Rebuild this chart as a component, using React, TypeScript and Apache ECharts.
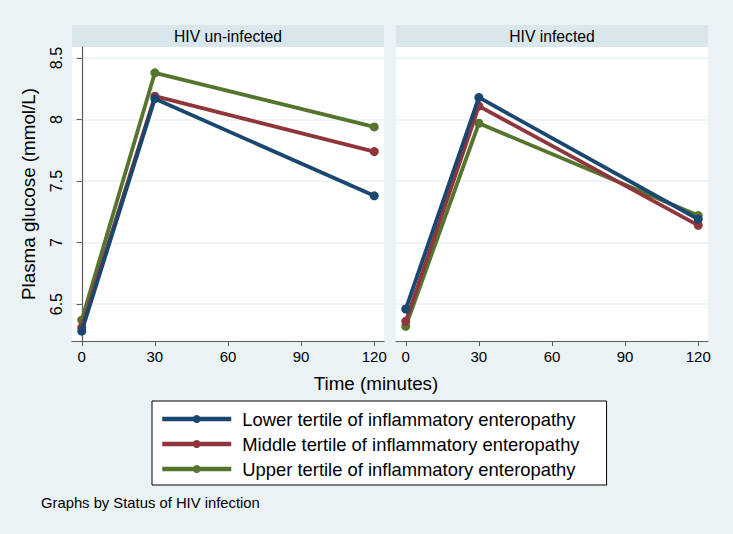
import React, { useEffect, useRef } from "react";
import * as echarts from "echarts";

const times = [0, 30, 120];
const xTicks = [0, 30, 60, 90, 120];
const yTicks = [6.5, 7, 7.5, 8, 8.5];
const panels = ["HIV un-infected", "HIV infected"];
const seriesNames = [
  "Lower tertile of inflammatory enteropathy",
  "Middle tertile of inflammatory enteropathy",
  "Upper tertile of inflammatory enteropathy",
];
const colors = ["#1a476f", "#90353b", "#55752f"];
// HIV un-infected
const uninfLower = [6.28, 8.17, 7.38];
const uninfMiddle = [6.31, 8.19, 7.74];
const uninfUpper = [6.37, 8.38, 7.94];
// HIV infected
const infLower = [6.46, 8.18, 7.19];
const infMiddle = [6.36, 8.11, 7.14];
const infUpper = [6.32, 7.97, 7.22];

const FONT = "'Liberation Sans', Arial, sans-serif";
const BG = "#EAF2F3";
const HEAD = "#D9E6EB";

export default function App() {
  const ref = useRef<HTMLDivElement>(null);
  useEffect(() => {
    if (!ref.current) return;
    const chart = echarts.init(ref.current, undefined, { renderer: "svg" });
    const groups = [
      [uninfLower, uninfMiddle, uninfUpper],
      [infLower, infMiddle, infUpper],
    ];
    const gridLeft = [72, 396];
    const gridW = 312;
    const series: any[] = [];
    groups.forEach((g, gi) => {
      g.forEach((vals, si) => {
        series.push({
          type: "line",
          name: seriesNames[si],
          xAxisIndex: gi,
          yAxisIndex: gi,
          data: vals.map((v, i) => [times[i], v]),
          symbol: "circle",
          symbolSize: 9,
          lineStyle: { width: 3.8, color: colors[si] },
          itemStyle: { color: colors[si] },
          z: 3 + (2 - si),
        });
      });
    });
    const xAxes = [0, 1].map((gi) => ({
      type: "value",
      gridIndex: gi,
      min: -4,
      max: 124,
      axisLine: { show: true, lineStyle: { color: "#5a5a5a", width: 1.2 } },
      axisTick: { show: true, length: 5, customValues: xTicks, lineStyle: { color: "#5a5a5a" } },
      axisLabel: { customValues: xTicks, fontFamily: FONT, fontSize: 15, color: "#000", margin: 8 },
      splitLine: { show: false },
    }));
    const yAxes = [0, 1].map((gi) => ({
      type: "value",
      gridIndex: gi,
      min: 6.2,
      max: 8.59,
      axisLine: { show: gi === 0, lineStyle: { color: "#5a5a5a", width: 1.2 } },
      axisTick: { show: gi === 0, length: 5, customValues: yTicks, lineStyle: { color: "#5a5a5a" } },
      axisLabel: {
        show: gi === 0,
        customValues: yTicks,
        rotate: 90,
        fontFamily: FONT,
        fontSize: 16,
        color: "#000",
        margin: 8,
      },
      splitLine: { show: true, lineStyle: { color: BG, width: 1.5 } },
    }));
    const graphic: any[] = [];
    panels.forEach((p, gi) => {
      graphic.push({
        type: "rect",
        shape: { x: gridLeft[gi], y: 25, width: gridW, height: 22 },
        style: { fill: HEAD },
        silent: true,
      });
      graphic.push({
        type: "text",
        x: gridLeft[gi] + gridW / 2,
        y: 36,
        style: {
          text: p,
          fontFamily: FONT,
          fontSize: 15.7,
          fill: "#000",
          textAlign: "center",
          textVerticalAlign: "middle",
        },
      });
    });
    graphic.push({
      type: "text",
      x: 28,
      y: 194,
      rotation: Math.PI / 2,
      style: {
        text: "Plasma glucose (mmol/L)",
        fontFamily: FONT,
        fontSize: 18.8,
        fill: "#000",
        textAlign: "center",
        textVerticalAlign: "middle",
      },
    });
    graphic.push({
      type: "text",
      x: 376,
      y: 383,
      style: {
        text: "Time (minutes)",
        fontFamily: FONT,
        fontSize: 18.8,
        fill: "#000",
        textAlign: "center",
        textVerticalAlign: "middle",
      },
    });
    graphic.push({
      type: "text",
      x: 41,
      y: 503,
      style: {
        text: "Graphs by Status of HIV infection",
        fontFamily: FONT,
        fontSize: 14.8,
        fill: "#000",
        textAlign: "left",
        textVerticalAlign: "middle",
      },
    });
    chart.setOption({
      animation: false,
      backgroundColor: BG,
      grid: gridLeft.map((l) => ({
        left: l,
        top: 47,
        width: gridW,
        height: 294,
        show: true,
        backgroundColor: "#fff",
        borderWidth: 0,
      })),
      xAxis: xAxes,
      yAxis: yAxes,
      legend: {
        data: seriesNames,
        orient: "vertical",
        left: 152,
        top: 401,
        itemWidth: 69,
        itemHeight: 10,
        itemGap: 7,
        padding: [9, 27, 7, 8],
        backgroundColor: "#fff",
        borderColor: "#000",
        borderWidth: 1,
        borderRadius: 0,
        lineStyle: { width: 4.5 },
        textStyle: {
          fontFamily: FONT,
          fontSize: 18.4,
          color: "#000",
          padding: [0, 0, 0, 6],
        },
      },
      graphic,
      series,
    });
    return () => chart.dispose();
  }, []);
  return (
    <div
      ref={ref}
      style={{ position: "absolute", left: 0, top: 0, width: 733, height: 534 }}
    />
  );
}
